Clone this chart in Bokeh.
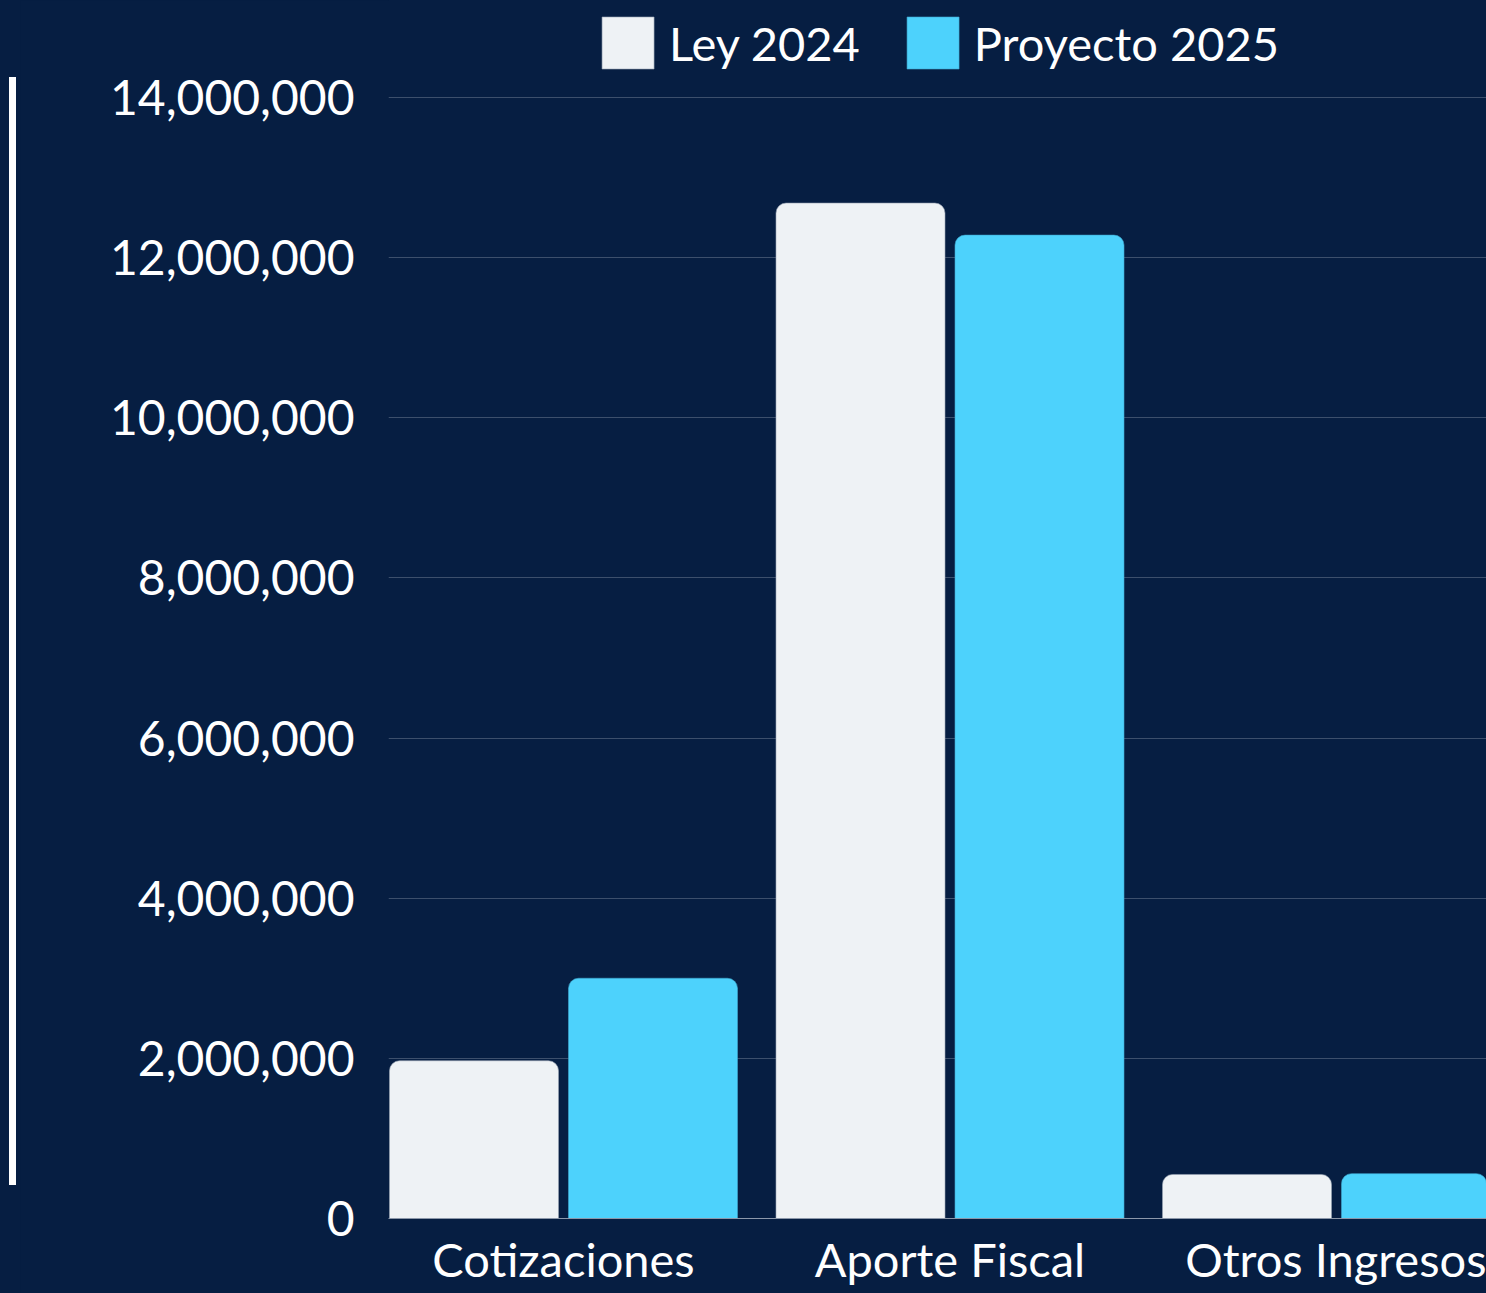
from bokeh.plotting import figure
from bokeh.models import (FixedTicker, NumeralTickFormatter, Legend, LegendItem,
                          ColumnDataSource, Div)
from bokeh.layouts import row
from bokeh.embed import file_html
from bokeh.resources import INLINE

categories = ["Cotizaciones", "Aporte Fiscal", "Otros Ingresos"]
ley_2024 = [1970000, 12680000, 550000]
proyecto_2025 = [3000000, 12280000, 560000]
y_ticks = [0, 2000000, 4000000, 6000000, 8000000, 10000000, 12000000, 14000000]

BG = "#061E42"
LEY_C = "#EEF2F5"
PRO_C = "#4DD2FC"
FONT = "Lato"

PAGE_W, PAGE_H = 1486, 1293
STRIP_W = 20
W, H = PAGE_W - STRIP_W, PAGE_H
left_border = 388 - STRIP_W
bottom_border = 75
frame_w = W - left_border
frame_h = H - bottom_border
px_per_cat = 386.5
first_center_px = 175.0
x_start = -first_center_px / px_per_cat
x_end = (frame_w - first_center_px) / px_per_cat
px_per_unit_y = 80.08 / 1e6
y_end = frame_h / px_per_unit_y

fig = figure(width=W, height=H, output_backend="svg", toolbar_location=None,
             x_range=(x_start, x_end), y_range=(0, y_end),
             min_border_left=left_border, min_border_right=0,
             min_border_top=0, min_border_bottom=bottom_border,
             background_fill_color=BG, border_fill_color=BG,
             outline_line_color=None, margin=0,
             styles={"background-color": BG})

bw = 169 / px_per_cat
off = 89.5 / px_per_cat
xs = list(range(len(categories)))
src = ColumnDataSource(dict(x_ley=[x - off for x in xs], x_pro=[x + off for x in xs],
                            ley=ley_2024, pro=proyecto_2025))

r1 = fig.vbar(x="x_ley", top="ley", width=bw, source=src, fill_color=LEY_C,
              line_color="#9AA6B6", line_width=0.6, border_radius=(10, 10, 0, 0))
r2 = fig.vbar(x="x_pro", top="pro", width=bw, source=src, fill_color=PRO_C,
              line_color="#3FA9D0", line_width=0.6, border_radius=(10, 10, 0, 0))

fig.xaxis.ticker = FixedTicker(ticks=xs)
fig.xaxis.major_label_overrides = {i: c for i, c in enumerate(categories)}
fig.xaxis.major_tick_line_color = None
fig.xaxis.minor_tick_line_color = None
fig.xaxis.major_tick_out = 0
fig.xaxis.axis_line_color = "#8C98AA"
fig.xaxis.major_label_text_color = "white"
fig.xaxis.major_label_text_font = FONT
fig.xaxis.major_label_text_font_size = "47px"
fig.xaxis.major_label_standoff = 12

fig.yaxis.ticker = FixedTicker(ticks=y_ticks)
fig.yaxis.formatter = NumeralTickFormatter(format="0,0")
fig.yaxis.major_tick_line_color = None
fig.yaxis.minor_tick_line_color = None
fig.yaxis.axis_line_color = None
fig.yaxis.major_label_text_color = "white"
fig.yaxis.major_label_text_font = FONT
fig.yaxis.major_label_text_font_size = "48px"
fig.yaxis.major_label_standoff = 28

fig.xgrid.grid_line_color = None
fig.ygrid.ticker = FixedTicker(ticks=y_ticks)
fig.ygrid.grid_line_color = "#3C4F6C"
fig.ygrid.grid_line_width = 1

legend = Legend(items=[LegendItem(label="Ley 2024", renderers=[r1]),
                       LegendItem(label="Proyecto 2025", renderers=[r2])],
                orientation="horizontal", location="top_center",
                background_fill_alpha=0, border_line_color=None,
                label_text_color="white", label_text_font=FONT,
                label_text_font_size="47px", glyph_width=65, glyph_height=65,
                label_standoff=9, spacing=40, padding=0, margin=10)
fig.add_layout(legend)

# decorative white bar at the left edge of the graphic
strip = Div(width=STRIP_W, height=PAGE_H, margin=0,
            styles={"background-color": BG},
            text='<div style="position:relative;left:9px;top:77px;width:7px;'
                 'height:1108px;background:#FFFFFF"></div>')

p = row(strip, fig, spacing=0, styles={"background-color": BG})

open("out.html", "w").write(file_html(p, INLINE))
